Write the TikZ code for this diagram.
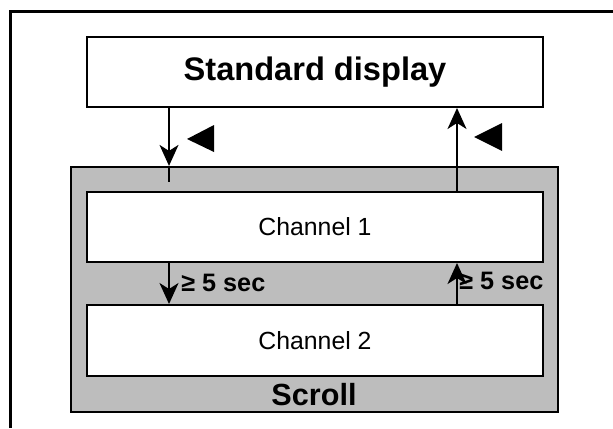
\documentclass[tikz,border=0pt]{standalone}
\usepackage{fontspec}
\setmainfont{Liberation Sans}
\usetikzlibrary{arrows.meta, positioning}

\begin{document}
\begin{tikzpicture}[x=0.5pt, y=-0.5pt,
		box/.style={draw, line width=1pt, fill=white, minimum width=228pt, inner sep=0pt},
		scrollbox/.style={draw, line width=1.1pt, fill=black!26, minimum width=243.5pt, minimum height=122.5pt, inner sep=0pt},
		lbl/.style={inner sep=0pt, font=\bfseries\fontsize{12.6}{14}\selectfont},
		arr/.style={line width=0.9pt, -{Stealth[length=10.5pt, width=9.5pt, inset=3pt]}}]
	\useasboundingbox (0,0) rectangle (613,428);
	% frame
	\draw[line width=1.5pt] (10,428) -- (10,11) -- (613,11);
	% boxes
	\node[box, minimum height=35pt, font=\bfseries\fontsize{16.3}{18}\selectfont] (disp) at (315,72) {Standard display};
	\node[scrollbox] (scroll) at (314.5,289.5) {};
	\node[box, minimum height=35pt, font=\fontsize{12.4}{14}\selectfont] (ch1) at (315,227) {Channel 1};
	\node[box, minimum height=35.5pt, font=\fontsize{12.4}{14}\selectfont] (ch2) at (315,340.5) {Channel 2};
	\node[inner sep=0pt, font=\bfseries\fontsize{15.3}{17}\selectfont] (scrolltxt) at (314,395) {Scroll};
	% connectors
	\coordinate (in) at (169,182);
	\coordinate (up) at (457,150);
	\draw[arr] (disp.south -| in) -- (scroll.north -| in);
	\draw[line width=0.9pt] (scroll.north -| in) -- (in);
	\draw[arr] (ch1.north -| up) -- (disp.south -| up);
	\draw[arr] (ch1.south -| in) -- (ch2.north -| in);
	\draw[arr] (ch2.north -| up) -- (ch1.south -| up);
	\node[lbl, anchor=west] (t1) at (181,283) {≥ 5 sec};
	\node[lbl, anchor=west] (t2) at (459,281) {≥ 5 sec};
	% markers
	\fill (214,125) -- (187,139) -- (214,152) -- cycle;
	\fill (502,123) -- (474,137) -- (502,151) -- cycle;
\end{tikzpicture}
\end{document}
